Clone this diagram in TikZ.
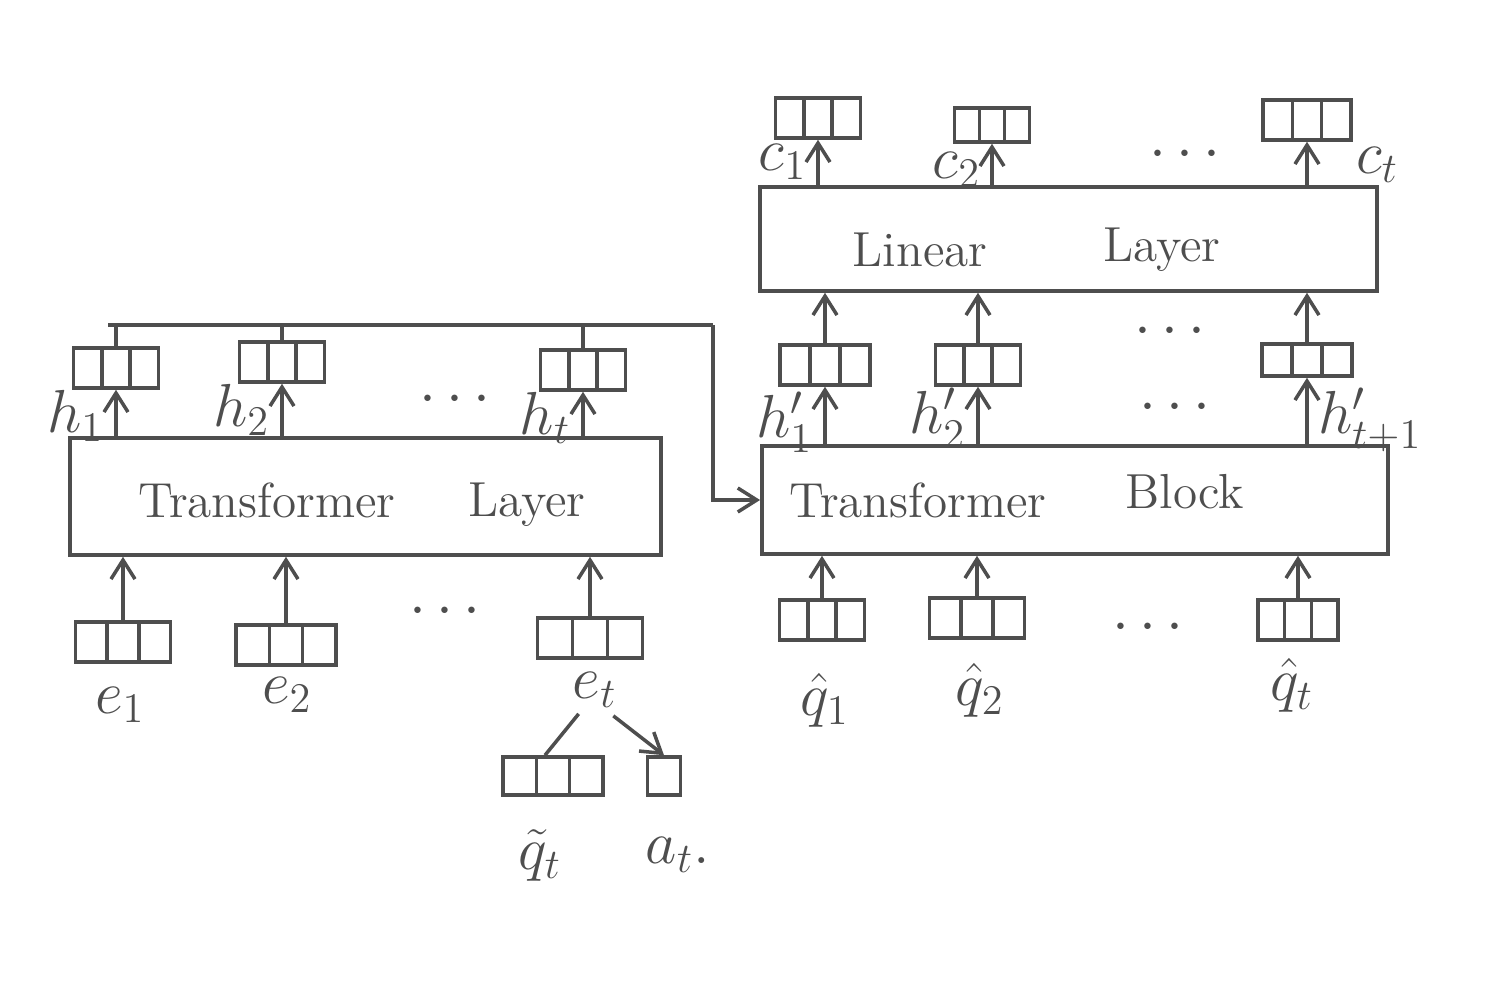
\documentclass[tikz,border=0pt]{standalone}
\usetikzlibrary{calc,arrows.meta}
\definecolor{ink}{RGB}{78,78,78}
\begin{document}
\begin{tikzpicture}[x=0.01cm,y=-0.01cm,
  ink/.style={draw=ink,line width=1pt},
  arr/.style={ink,-{Straight Barb[length=1.9mm,width=2.4mm]}},
  layerbox/.style={ink,rectangle,inner sep=0pt},
  word/.style={text=ink,font=\fontsize{14}{16}\selectfont},
  lab/.style={text=ink,inner sep=1pt,font=\fontsize{17}{19}\selectfont},
  dots/.style={text=ink,font=\fontsize{16}{18}\selectfont},
  vec/.style={ink,rectangle,inner sep=0pt,minimum width=0.85cm,minimum height=0.4cm,
    path picture={
      \foreach \f in {0.333,0.667}{
        \draw[ink] ($(path picture bounding box.south west)!\f!(path picture bounding box.south east)$)
          -- ($(path picture bounding box.north west)!\f!(path picture bounding box.north east)$);}
    }},
  cell/.style={ink,rectangle,inner sep=0pt,minimum width=0.33cm,minimum height=0.38cm}
]
\useasboundingbox (0,0) rectangle (1493,1000);

% ---------- main boxes ----------
\node[layerbox,minimum width=5.91cm,minimum height=1.17cm] (TL) at (365.5,496.5) {};
\node[layerbox,minimum width=6.17cm,minimum height=1.04cm] (LL) at (1068.5,239) {};
\node[layerbox,minimum width=6.26cm,minimum height=1.08cm] (TB) at (1075,500) {};

\node[word] (TLw1) at (267,500) {Transformer};
\node[word] (TLw2) at (527,505) {Layer};
\node[word] (LLw1) at (920,250) {Linear};
\node[word] (LLw2) at (1162,250) {Layer};
\node[word] (TBw1) at (918,500) {Transformer};
\node[word] (TBw2) at (1185,492) {Block};

% ---------- left: hidden states ----------
\node[vec] (h1) at (116,368) {};
\node[vec] (h2) at (282,362) {};
\node[vec] (ht) at (583,370) {};
\draw[arr] (h1.south |- TL.north) -- (h1.south);
\draw[arr] (h2.south |- TL.north) -- (h2.south);
\draw[arr] (ht.south |- TL.north) -- (ht.south);
\node[lab,anchor=east] (h1l) at (108,416) {$h_1$};
\node[lab,anchor=east] (h2l) at (274,410) {$h_2$};
\node[lab,anchor=east] (htl) at (575,418) {$h_t$};
\node[dots] (hd) at (455,400) {$\cdots$};

% ---------- left: inputs ----------
\node[vec,minimum width=0.95cm] (e1) at (123,642) {};
\node[vec,minimum width=1.0cm] (e2) at (286,645) {};
\node[vec,minimum width=1.05cm] (et) at (590,638) {};
\draw[arr] (e1.north) -- (e1.north |- TL.south);
\draw[arr] (e2.north) -- (e2.north |- TL.south);
\draw[arr] (et.north) -- (et.north |- TL.south);
\node[lab] (e1l) at (120,705) {$e_1$};
\node[lab] (e2l) at (287,695) {$e_2$};
\node[lab] (etl) at (595,690) {$e_t$};
\node[dots] (ed) at (445,612) {$\cdots$};

% ---------- e_t decomposition ----------
\node[vec,minimum width=1.0cm,minimum height=0.38cm] (qtv) at (553,776) {};
\node[cell] (atb) at (664,776) {};
\draw[ink] (etl.south west) ++(10,2) -- ($(qtv.north)+(-8,0)$);
\draw[arr] (etl.south east) ++(-8,4) -- (atb.north);
\node[lab] (qtl) at (540,855) {$\tilde{q}_t$};
\node[lab] (atl) at (678,855) {$a_t.$};

% ---------- feedback connection ----------
\coordinate (fbL) at (108,325);
\coordinate (fbR) at (713,325);
\draw[ink] (fbL) -- (fbR);
\draw[ink] (h1.north) -- (h1.north |- fbL);
\draw[ink] (h2.north) -- (h2.north |- fbL);
\draw[ink] (ht.north) -- (ht.north |- fbL);
\draw[arr] (fbR) |- (TB.west);

% ---------- right: transformer block outputs ----------
\node[vec,minimum width=0.9cm] (hp1) at (825,365) {};
\node[vec] (hp2) at (978,365) {};
\node[vec,minimum width=0.9cm,minimum height=0.32cm] (hpt) at (1307,360) {};
\draw[arr] (hp1.south |- TB.north) -- (hp1.south);
\draw[arr] (hp2.south |- TB.north) -- (hp2.south);
\draw[arr] (hpt.south |- TB.north) -- (hpt.south);
\draw[arr] (hp1.north) -- (hp1.north |- LL.south);
\draw[arr] (hp2.north) -- (hp2.north |- LL.south);
\draw[arr] (hpt.north) -- (hpt.north |- LL.south);
\node[lab,anchor=east] (hp1l) at (817,422) {$h'_1$};
\node[lab,anchor=east] (hp2l) at (970,418) {$h'_2$};
\node[lab,anchor=west] (hptl) at (1314,420) {$h'_{t+1}$};
\node[dots] (hpd) at (1175,408) {$\cdots$};
\node[dots] (hpd2) at (1170,332) {$\cdots$};

% ---------- right: linear layer outputs ----------
\node[vec] (c1) at (818,118) {};
\node[vec,minimum width=0.75cm,minimum height=0.34cm] (c2) at (992,125) {};
\node[vec,minimum width=0.88cm] (ct) at (1307,120) {};
\draw[arr] (c1.south |- LL.north) -- (c1.south);
\draw[arr] (c2.south |- LL.north) -- (c2.south);
\draw[arr] (ct.south |- LL.north) -- (ct.south);
\node[lab,anchor=east] (c1l) at (811,162) {$c_1$};
\node[lab,anchor=east] (c2l) at (985,170) {$c_2$};
\node[lab,anchor=west] (ctl) at (1352,165) {$c_t$};
\node[dots] (cd) at (1185,155) {$\cdots$};

% ---------- right: inputs ----------
\node[vec] (q1) at (822,620) {};
\node[vec,minimum width=0.95cm] (q2) at (977,618) {};
\node[vec,minimum width=0.8cm] (qt) at (1298,620) {};
\draw[arr] (q1.north) -- (q1.north |- TB.south);
\draw[arr] (q2.north) -- (q2.north |- TB.south);
\draw[arr] (qt.north) -- (qt.north |- TB.south);
\node[lab] (q1l) at (825,700) {$\hat{q}_1$};
\node[lab] (q2l) at (980,690) {$\hat{q}_2$};
\node[lab] (qtl2) at (1292,685) {$\hat{q}_t$};
\node[dots] (qd) at (1148,628) {$\cdots$};
\end{tikzpicture}
\end{document}
